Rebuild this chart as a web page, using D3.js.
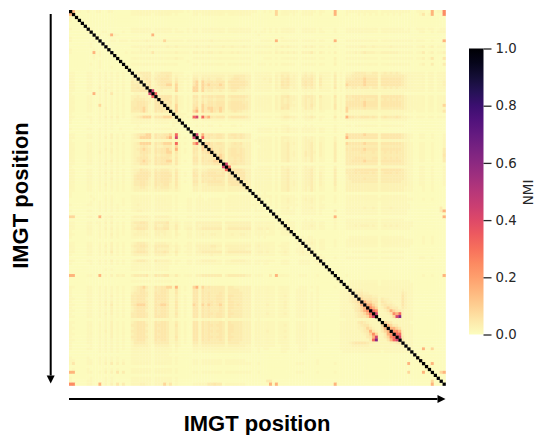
<!DOCTYPE html>
<html>
<head>
<meta charset="utf-8">
<script src="https://cdn.jsdelivr.net/npm/d3@7"></script>
<style>
html, body { margin: 0; padding: 0; background: #fff; }
</style>
</head>
<body>
<div id="chart"></div>
<script>
let width = 536,
height = 435;

// NMI value behind each hex level used in the rows below
let levelValues = [0.003, 0.007, 0.012, 0.018, 0.026, 0.036, 0.05, 0.085, 0.16, 0.24, 0.32, 0.42, 0.52, 0.62, 0.72];

let colorbarTicks = [0, 0.2, 0.4, 0.6, 0.8, 1];

// lower triangle: row r holds columns 0..r-1, mirrored on draw, diagonal is 1
let lowerRows = [
"",
"8",
"21",
"211",
"1111",
"11111",
"311111",
"1111112",
"11111111",
"211111111",
"3111111121",
"1111111211 1",
"1111111211 11",
"3111111121 111",
"2111111181 2111",
"1111111131 21111",
"1111111121 111111",
"1111111111 2111111",
"1111111211 21111111",
"1111111111 211121111",
"1111111111 1111111111",
"2211112211 3121312121 1",
"2211112211 2131213121 13",
"3211112211 3131212121 144",
"3311112211 2132312121 1545",
"3211112311 3131312131 15554",
"3311113211 4132312131 155655",
"3211112211 3141313121 1555666",
"2111111181 2131612121 1122222b",
"2211112211 2131212121 14454443a",
"3211112211 3131312121 1455554426",
"3311112211 2131313121 1556665426 6",
"3211112311 7131312131 1556665326 65",
"3311112211 3141313121 1566675326 655",
"3211112211 2131312121 1555675326 5655",
"2111111111 2121212121 1222222212 22222",
"3211112211 3141414131 1345677726 667774",
"2111111211 2121212111 1223333213 3332232",
"2111111211 2121212111 1222322212 22221222",
"1111111111 1121211111 1112111111 111112111",
"2111112211 3121211211 1122222212 2222212111",
"1111111111 2121111111 1111111111 1111111111 1",
"3211112211 3131412131 1345667726 556673a211 11",
"3311112311 3141413131 1345777726 566783b212 11b",
"2111111111 2121212111 1222222212 2222212111 1123",
"3211112211 3131413131 1345777726 567772a212 118a2",
"3211112211 2131312121 1344565425 4455527211 115527",
"3311112211 3141413121 1345676526 5667628212 1166276",
"3211113211 4131412131 1344666526 5667726212 11652667",
"3211112211 2131312121 1344565425 4556625211 115525556",
"3211112211 2131312131 1345666426 5666526211 1166265556",
"3311112311 3131413131 1345676526 5667726212 1166265667 7",
"3211112211 2141312121 1344666426 5666526211 1155255556 66",
"2111111111 2121212111 1222222212 2222222111 1122122222 22b",
"3211112211 3131312131 1344655425 4555425211 1155244555 555a",
"3311112211 2141413121 1345666526 5666526212 1165255666 55626",
"3211112311 3131312131 1356666526 5666626212 1166265666 666266",
"3211112211 2131412121 1356666426 5666526211 1155255556 5552665",
"3311113211 3131312131 1355665426 5666526212 1166265666 66526666",
"3211112211 2141312121 1355665426 5566426211 1155244555 555256665",
"3211112211 2131312121 1344554325 4555425211 1144244444 4442444455",
"2211112211 2131212121 1244444324 4444324211 1144244444 4442444444 4",
"2111111111 1111111111 1111111111 1111111111 1111111111 1111111111 11",
"2111111211 1121211111 1222222212 2222212111 1111211111 1111222222 221",
"1111111121 1131311121 1233333213 3332212111 2212221222 2212222222 2222",
"1111111211 2121311121 1233333212 3332212111 2212322222 2212322222 22122",
"2111112211 2131312121 1234333213 3333212111 2212322322 2212322222 222221",
"1111111111 2121212111 1233333212 3322212111 2212222222 2212222222 2212121",
"2111112211 2131312121 1234433213 3333212111 2212322322 2212322322 22132221",
"1111111111 1111111111 1111111111 1111111111 1111111111 1111111111 111111111",
"7711112311 8132412131 1344444314 4444313111 3313333333 3313333333 3312222212",
"1111111111 1121211111 1222222212 2222212111 1111111111 1111111111 1111111111 1",
"2211112312 3141412131 1455665325 5556324212 3314444444 4414444444 4413332322 12",
"3211112211 3131312131 1445555325 4455325212 3314344444 4413444444 4412322222 113",
"2211113311 2141413131 1456665326 5566325213 4414455555 5514555555 5513443432 1234",
"2111112211 2131312121 1334443214 4443214111 2213333333 3313333333 3312222122 11222",
"3211112211 3131413121 1344444214 4343214211 3313343344 3313343344 3312322222 112232",
"2111111111 2121312111 1233333213 3332213111 2212222222 2212222222 2211212111 1111111",
"1111111111 1111111111 1111111111 1111111111 1111111111 1111111111 1111111111 11111111",
"2211112211 2131412121 1345554214 4443313111 3313333333 3312333333 3312322222 112231121",
"3211113311 3141413131 1455665325 5555324212 3314444455 4414444444 4413433322 1233211122",
"2211112211 3131412121 1345554315 4444314211 3313444444 3313444444 3312332322 1123311223 1",
"3311112311 3141513131 1456665325 5565325212 3314455555 5514555555 5513443422 1234311234 23",
"2111112211 2131312121 1344444214 4443214111 2213333343 3313333333 3312322222 1123211123 223",
"1111111111 1111111111 1111111111 1111111111 1111111111 1111111111 1111111111 1111111111 1111",
"3211112211 3131412131 1345554315 4444313211 3313344444 3313344444 3312322322 1123211123 22123",
"2111111211 2121312121 1233333213 3333212111 2212222222 2212222222 2212212211 1122211122 221123",
"1111111111 1111111111 1222222212 2222111111 1111111111 1111111111 1111111111 1111111111 1111111",
"1111111111 1121211111 1222222212 2222111111 1111111111 1111111111 1111111111 1111111111 11111111",
"1111111111 1111111111 1111111111 1111111111 1111111111 1111111111 1111111111 1111111111 111111111",
"8811112311 8131414341 1455556326 5566325212 3314455555 5514555555 4412321151 8232211122 2111211111",
"1111111111 1111111111 1111111111 1111111111 1111111111 1111111111 1111111111 1111111111 1111111111 1",
"1111111111 1111111111 1222222212 2222212111 1111111111 1111111111 1111111111 1111111111 1111111111 12",
"1111111111 1111111111 1111111111 1111111111 1111111111 1111111111 1111111111 1111111111 1111111111 112",
"3211112211 3131313121 1345675326 5667738212 1178275655 5552554444 4412222322 1232211122 2121211111 2112",
"2111112211 2131312121 1345664225 5665326212 1166265555 5552555544 4412322322 1233211232 2111211111 11233",
"2111112211 2131312121 1455665326 5665326211 1166265655 5652555554 4412322322 1233211232 2121211111 112334",
"2111112211 3131412121 1556665326 6665325212 1166265655 6652665554 4413322322 1234211233 2121211111 1123345",
"2211112211 2131312131 1556664326 6665325212 1166265655 6652655554 4413322322 1233211232 2121211111 11233456",
"2111112311 3141412121 1556665326 5665326212 1166265665 6652665554 4413322322 1234211233 2121211111 112334567",
"2211112211 3141513121 1567775326 6776326212 1176275765 6752665654 4413322422 1234211233 2121211111 1123334568",
"2111112211 2131412121 1456665326 5665326212 1166265655 5652665554 4413322322 1234211233 2121211111 1123334567 8",
"2211112211 3131412131 1456664326 5665325212 1166265655 5652655554 4413322322 1233211233 2121211111 1123333567 89",
"2111112211 2141412121 1556665326 5665326212 1166265665 6652665554 4413322422 1234211233 2121211111 1123333456 78a",
"2211113211 3131312131 1556665326 6665325212 1166265655 6652655554 4413322322 1233211233 2121211111 1123333456 679b",
"1111111111 1121211111 1222222212 2222212111 1122122222 2212222222 2211211111 1111111111 1111111111 1111222222 22222",
"2211112211 2131412121 1456664326 5665325212 1166265655 5652655554 4413322322 1233211232 2121211111 1122333356 543332",
"2111112311 3131412121 1556665326 6665326212 1166265665 6652665554 4413322322 1234211233 2121211111 1122333345 6643327",
"2211112211 2131412131 1456664326 5665325212 1166265655 5652665554 4413322322 1233211233 2121211111 1122333344 57643268",
"2111112211 3141412121 1556665326 6665325212 1166265665 6652665554 4413322422 1234211233 2121211111 1122333334 568642578",
"2211112311 2131412131 1456664326 5665325212 1166265655 5652655554 4413322322 1233211233 2121211111 1122333333 4579723589",
"2111112211 3131412121 1556665326 6665326212 1166265665 6652665554 4413322322 1234211233 2121211111 1122333333 3568b23579 a",
"2211112211 2131312131 1456664326 5665325212 1166265655 5652655554 4413322322 1233211232 2121211111 1122333333 335ad23368 ab",
"2111112211 2131312121 1355554325 5555324212 1155255555 5552555544 4412322322 1233211232 2121211111 1122345666 6544323334 456",
"2111111211 2131312121 1344444314 4444314211 1144244444 4442444444 3312222222 1122211122 2111111111 1122334444 4433332333 3334",
"2111112211 2121312121 1333333213 3333213111 1133233333 3332333333 2211212211 1122211122 2111111111 1122333333 3333332333 33333",
"1111111111 2121212111 1233333213 3332212111 1122122222 2222222222 2211211111 1122111122 1111111111 1112222222 2222221222 222223",
"1111111111 1111111111 1222222212 2222111111 1111111111 1111111111 1111111111 1111111111 1111111111 1111111111 1111111111 1111111",
"2111112111 2121212111 1222222212 2222212111 1111111111 1111111111 1111111111 1111111111 1111111111 1111111111 1111111111 11111111",
"3311112211 2131312121 1222222212 2222212111 1122122222 2212222222 1111111111 1111111111 1111211111 1111111111 1111111111 111111112",
"2611112311 2141514141 1233333213 3332212111 1122122222 2212222222 2211211111 1111111222 1111211111 3111111111 1111111111 1111181113",
"1111111111 1111111111 1111111111 1111111111 1111111111 1111111111 1111111111 1111111111 1111111111 1111111111 1111111111 1111111111 1",
"1211112111 1121212111 1222222212 2222212111 1111111111 1111111111 1111111111 1111111111 1111111111 1111111111 1111111111 1111111111 12",
"8811112311 2141416151 1333333213 3332213111 1122122222 2212222222 2211211111 1111111222 1111211111 2111111111 1111111111 1111171111 811",
"1111111111 1111111111 1111111111 1111111111 1111111111 1111111111 1111111111 1111111111 1111111111 1111111111 1111111111 1111111111 1111",
"2111111211 1121211111 1222222212 2222212111 1111111111 1111111111 1111111111 1111111111 1111111111 1111111111 1111111111 1111111111 11111",
"2111112211 1121211111 1222222212 2222212111 1111111111 1111111111 1111111551 1111111111 1111111111 1111111111 1111111111 1111111111 111711",
"9911112311 8131416151 1333443213 3373612111 1122333556 5512222222 1111111181 8111111111 1111111111 8111111111 1111111111 1111111111 1118111"
];

let rows = lowerRows.map(d => d.replace(/ /g, ""));
let positions = d3.range(rows.length);

let cells = [];
positions.forEach(r => {
    positions.filter(c => c < r).forEach(c => {
        let value = levelValues[parseInt(rows[r][c] || "1", 16)];
        cells.push({ row: r, col: c, value: value });
        cells.push({ row: c, col: r, value: value });
    });
});
// diagonal last so neighbours do not paint over it
positions.forEach(r => cells.push({ row: r, col: r, value: 1 }));

let svg = d3.select("#chart")
.append("svg")
.attr("width", width)
.attr("height", height)
.style("display", "block")
.style("font-family", "'DejaVu Sans', sans-serif");

let x = d3.scaleBand().domain(positions).range([69, 445.5]);
let y = d3.scaleBand().domain(positions).range([10, 385.5]);
let nmi = d3.scaleLinear().domain([0, 1]).range([334.5, 48.5]);
let color = v => d3.interpolateMagma(1 - v);

// the reference is a soft raster, a very small blur gets closer to it
let defs = svg.append("defs");
defs.append("filter")
.attr("id", "soft")
.attr("x", 0).attr("y", 0).attr("width", 1).attr("height", 1)
.append("feGaussianBlur")
.attr("stdDeviation", 0.35);

let heat = svg.append("g").attr("filter", "url(#soft)");

heat.selectAll("rect")
.data(cells)
.enter()
.append("rect")
.attr("x", d => x(d.col))
.attr("y", d => y(d.row))
.attr("width", x.bandwidth() + 0.3)
.attr("height", y.bandwidth() + 0.3)
.attr("fill", d => color(d.value));

// colour bar
let gradient = defs.append("linearGradient")
.attr("id", "magmaBar")
.attr("x1", 0).attr("y1", 1).attr("x2", 0).attr("y2", 0);

gradient.selectAll("stop")
.data(d3.range(0, 1.001, 0.05))
.enter()
.append("stop")
.attr("offset", d => d)
.attr("stop-color", d => color(d));

svg.append("rect")
.attr("x", 469)
.attr("y", nmi(1))
.attr("width", 14.5)
.attr("height", nmi(0) - nmi(1))
.attr("fill", "url(#magmaBar)");

let barAxis = svg.append("g")
.attr("transform", "translate(483.5,0)")
.call(d3.axisRight(nmi).tickValues(colorbarTicks).tickFormat(d3.format(".1f")).tickSize(8).tickPadding(4));

barAxis.select(".domain").remove();
barAxis.selectAll("line").attr("stroke", "#262626").attr("stroke-width", 1.3);
barAxis.selectAll("text")
.attr("fill", "#262626")
.style("font-size", "13.3px")
.style("font-family", "'DejaVu Sans', sans-serif");

svg.append("text")
.attr("transform", "translate(532.5,192.5) rotate(-90)")
.attr("text-anchor", "middle")
.attr("fill", "#262626")
.style("font-size", "13.5px")
.text("NMI");

// position arrows and titles
function arrow(x1, y1, x2, y2) {
    let a = Math.atan2(y2 - y1, x2 - x1), len = 8, half = 4;
    let bx = x2 - len * Math.cos(a), by = y2 - len * Math.sin(a);
    svg.append("line")
    .attr("x1", x1).attr("y1", y1).attr("x2", bx).attr("y2", by)
    .attr("stroke", "#000").attr("stroke-width", 2);
    svg.append("polygon")
    .attr("points", [
        [x2, y2],
        [bx - half * Math.sin(a), by + half * Math.cos(a)],
        [bx + half * Math.sin(a), by - half * Math.cos(a)]
    ].join(" "))
    .attr("fill", "#000");
}

arrow(69, 399, 445.5, 399);
arrow(50.7, 14, 50.7, 383.5);

svg.append("text")
.attr("x", 257)
.attr("y", 430.5)
.attr("text-anchor", "middle")
.style("font-family", "'Liberation Sans', Arial, sans-serif")
.style("font-weight", "bold")
.style("font-size", "22px")
.text("IMGT position");

svg.append("text")
.attr("transform", "translate(28,195.5) rotate(-90)")
.attr("text-anchor", "middle")
.style("font-family", "'Liberation Sans', Arial, sans-serif")
.style("font-weight", "bold")
.style("font-size", "22px")
.text("IMGT position");
</script>
</body>
</html>
